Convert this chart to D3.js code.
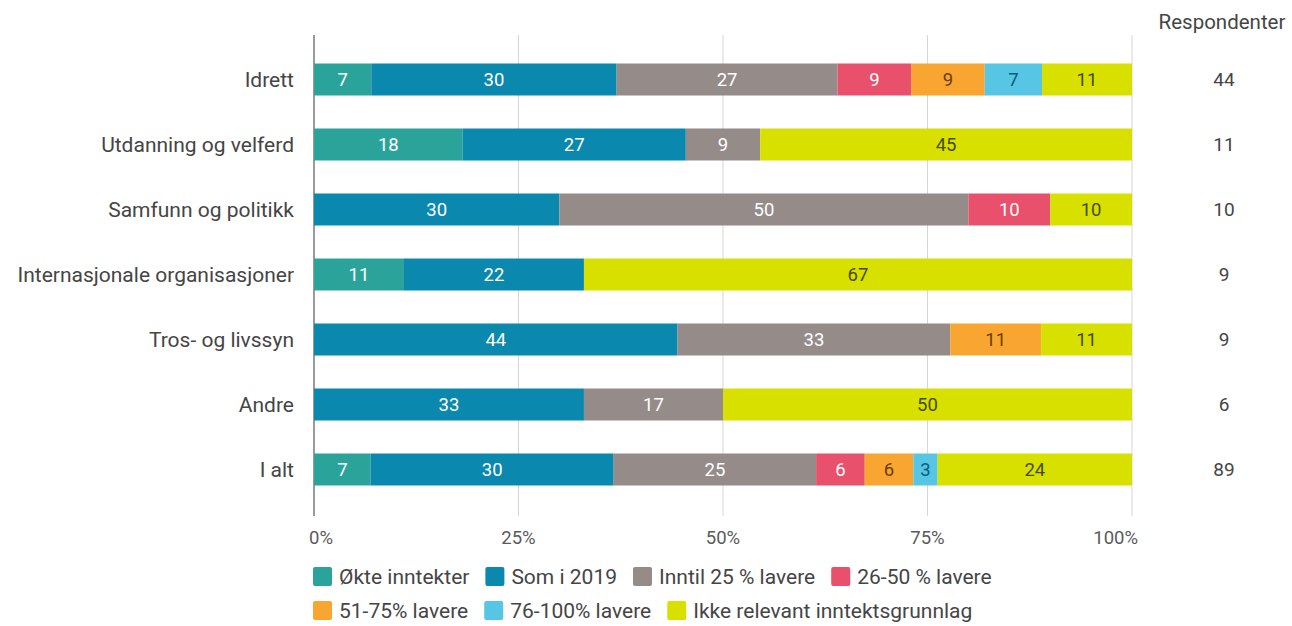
<!DOCTYPE html>
<html>
<head>
<meta charset="utf-8">
<script src="https://cdn.jsdelivr.net/npm/d3@7"></script>
<style>
  body { margin: 0; background: #fff; font-family: Roboto, "Noto Sans", sans-serif; }
</style>
</head>
<body>
<svg id="chart" width="1292" height="626"></svg>
<script>
// categories (rows) and respondents
const categories = ["Idrett", "Utdanning og velferd", "Samfunn og politikk",
  "Internasjonale organisasjoner", "Tros- og livssyn", "Andre", "I alt"];
const respondents = [44, 11, 10, 9, 9, 6, 89];

// series names + colours
const seriesNames = ["Økte inntekter", "Som i 2019", "Inntil 25 % lavere", "26-50 % lavere",
  "51-75% lavere", "76-100% lavere", "Ikke relevant inntektsgrunnlag"];
const seriesColors = ["#2aa49b", "#0b88ae", "#958c8a", "#e9506b", "#f8a532", "#56c6e4", "#d8e000"];
const labelColors = ["#fff", "#fff", "#fff", "#fff", "#6a4000", "#0b5a78", "#4a4a00"];

// percent values per series, one per category
const okte      = [7, 18, 0, 11, 0, 0, 7];
const somI2019  = [30, 27, 30, 22, 44, 33, 30];
const inntil25  = [27, 9, 50, 0, 33, 17, 25];
const lav26_50  = [9, 0, 10, 0, 0, 0, 6];
const lav51_75  = [9, 0, 0, 0, 11, 0, 6];
const lav76_100 = [7, 0, 0, 0, 0, 0, 3];
const ikkeRel   = [11, 45, 10, 67, 11, 50, 24];

const tickValues = [0, 0.25, 0.5, 0.75, 1];

const seriesValues = [okte, somI2019, inntil25, lav26_50, lav51_75, lav76_100, ikkeRel];

// table for d3.stack
const table = categories.map((c, i) => {
  const row = { cat: c };
  seriesNames.forEach((s, j) => { row[s] = seriesValues[j][i]; });
  return row;
});

const stacked = d3.stack()
  .keys(seriesNames)
  .offset(d3.stackOffsetExpand)(table);

const dimensions = {
  left: 314, right: 1132, top: 47, rowStep: 65, barHeight: 32
};

const svg = d3.select("#chart");

const xScale = d3.scaleLinear().domain([0, 1]).range([dimensions.left, dimensions.right]);
const yScale = d3.scaleBand()
  .domain(categories)
  .range([dimensions.top, dimensions.top + dimensions.rowStep * categories.length])
  .paddingInner(1 - dimensions.barHeight / dimensions.rowStep)
  .paddingOuter((1 - dimensions.barHeight / dimensions.rowStep) / 2);

const textColor = "#454545";

// grid lines
svg.append("g")
  .selectAll("line")
  .data(tickValues)
  .join("line")
  .attr("x1", d => xScale(d))
  .attr("x2", d => xScale(d))
  .attr("y1", 35)
  .attr("y2", 516)
  .attr("stroke", d => d === 0 ? "#9a9a9a" : "#d6d6d6")
  .attr("stroke-width", d => d === 0 ? 2 : 1);

// bars
const groups = svg.append("g")
  .selectAll("g")
  .data(stacked)
  .join("g")
  .attr("fill", (d, i) => seriesColors[i]);

groups.selectAll("rect")
  .data(d => d)
  .join("rect")
  .attr("x", d => xScale(d[0]))
  .attr("y", d => yScale(d.data.cat))
  .attr("width", d => xScale(d[1]) - xScale(d[0]))
  .attr("height", yScale.bandwidth());

// value labels
stacked.forEach((s, i) => {
  svg.append("g")
    .selectAll("text")
    .data(s.filter(d => d.data[s.key] > 0))
    .join("text")
    .attr("x", d => (xScale(d[0]) + xScale(d[1])) / 2)
    .attr("y", d => yScale(d.data.cat) + yScale.bandwidth() / 2)
    .attr("dy", "0.36em")
    .attr("text-anchor", "middle")
    .attr("fill", labelColors[i])
    .style("font-size", "18.5px")
    .text(d => d.data[s.key]);
});

// category labels
svg.append("g")
  .selectAll("text")
  .data(categories)
  .join("text")
  .attr("x", 294)
  .attr("y", d => yScale(d) + yScale.bandwidth() / 2)
  .attr("dy", "0.36em")
  .attr("text-anchor", "end")
  .attr("fill", textColor)
  .style("font-size", "21px")
  .text(d => d);

// respondents column
svg.append("text")
  .attr("x", 1222)
  .attr("y", 29)
  .attr("text-anchor", "middle")
  .attr("fill", textColor)
  .style("font-size", "20.5px")
  .text("Respondenter");

svg.append("g")
  .selectAll("text")
  .data(respondents)
  .join("text")
  .attr("x", 1224)
  .attr("y", (d, i) => yScale(categories[i]) + yScale.bandwidth() / 2)
  .attr("dy", "0.36em")
  .attr("text-anchor", "middle")
  .attr("fill", textColor)
  .style("font-size", "19px")
  .text(d => d);

// x axis tick labels
const fmt = d3.format(".0%");
svg.append("g")
  .selectAll("text")
  .data(tickValues)
  .join("text")
  .attr("x", (d, i) => i === 0 ? xScale(d) - 5 : i === tickValues.length - 1 ? xScale(d) + 6 : xScale(d))
  .attr("y", 544)
  .attr("text-anchor", (d, i) => i === 0 ? "start" : i === tickValues.length - 1 ? "end" : "middle")
  .attr("fill", "#5a5a5a")
  .style("font-size", "18.5px")
  .text(d => fmt(d));

// legend (two rows)
const legendRows = [[0, 1, 2, 3], [4, 5, 6]];
legendRows.forEach((row, r) => {
  let x = dimensions.left - 1;
  const y = 576 + r * 34;
  row.forEach(idx => {
    svg.append("rect")
      .attr("x", x)
      .attr("y", y - 9)
      .attr("width", 19)
      .attr("height", 19)
      .attr("rx", 2)
      .attr("fill", seriesColors[idx]);
    const t = svg.append("text")
      .attr("x", x + 26)
      .attr("y", y)
      .attr("dy", "0.36em")
      .attr("fill", textColor)
      .style("font-size", "21px")
      .text(seriesNames[idx]);
    x += 26 + t.node().getComputedTextLength() + 16;
  });
});
</script>
</body>
</html>
